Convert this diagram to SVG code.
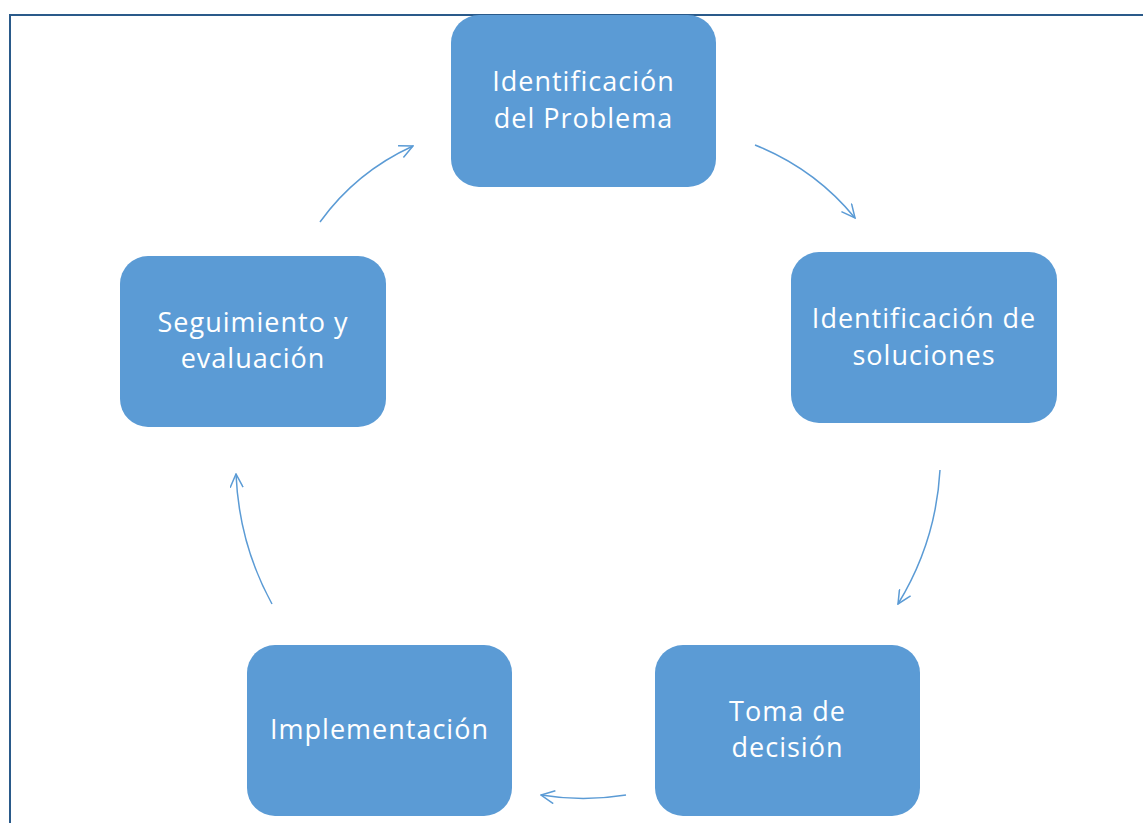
<svg xmlns="http://www.w3.org/2000/svg" width="1143" height="823" viewBox="0 0 1143 823">
<style>
.box{fill:#5B9BD5;}
.lbl{fill:#FFFFFF;font-family:"Open Sans","Liberation Sans",sans-serif;font-size:27px;letter-spacing:1px;text-anchor:middle;}
.conn{fill:none;stroke:#5B9BD5;stroke-width:1.5;marker-end:url(#arr);}
</style>
<defs>
<marker id="arr" viewBox="0 0 15 14" refX="14" refY="7" markerWidth="15" markerHeight="14" markerUnits="userSpaceOnUse" orient="auto">
<path d="M0.5,0.5 L14,7 L0.5,13.5" fill="none" stroke="#5B9BD5" stroke-width="1.5"/>
</marker>
</defs>
<rect width="1143" height="823" fill="#FFFFFF"/>
<path d="M10,823 L10,15 L1143,15" fill="none" stroke="#2A5A8A" stroke-width="2"/>
<g id="connectors">
<path class="conn" d="M755,145 Q815,169 855,218"/>
<path class="conn" d="M940,470 Q936,542 898,604"/>
<path class="conn" d="M626,795 Q583,802 541,795"/>
<path class="conn" d="M272,604 Q239,544 236,474"/>
<path class="conn" d="M320,222 Q356,172 413,146"/>
</g>
<g id="n1">
<rect class="box" x="451" y="15" width="265" height="172" rx="28"/>
<text class="lbl" x="583.5" y="91">Identificación</text>
<text class="lbl" x="583.5" y="128">del Problema</text>
</g>
<g id="n2">
<rect class="box" x="791" y="252" width="266" height="171" rx="28"/>
<text class="lbl" x="924" y="328">Identificación de</text>
<text class="lbl" x="924" y="365">soluciones</text>
</g>
<g id="n3">
<rect class="box" x="655" y="645" width="265" height="171" rx="28"/>
<text class="lbl" x="787.5" y="721">Toma de</text>
<text class="lbl" x="787.5" y="757">decisión</text>
</g>
<g id="n4">
<rect class="box" x="247" y="645" width="265" height="171" rx="28"/>
<text class="lbl" x="379.5" y="739">Implementación</text>
</g>
<g id="n5">
<rect class="box" x="120" y="256" width="266" height="171" rx="28"/>
<text class="lbl" x="253" y="332">Seguimiento y</text>
<text class="lbl" x="253" y="368">evaluación</text>
</g>
</svg>
